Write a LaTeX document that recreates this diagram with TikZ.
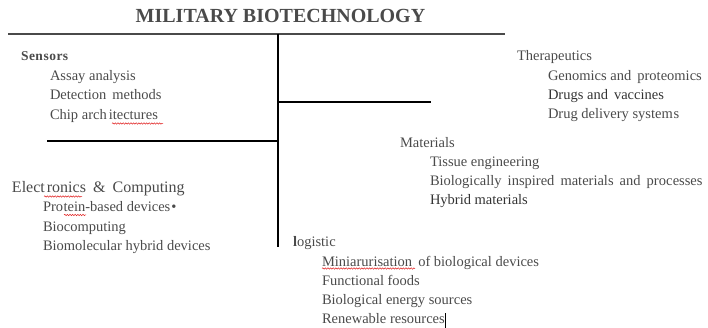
\documentclass[tikz,border=0pt]{standalone}
\usepackage{fontspec}
\setmainfont{Liberation Serif}
\usetikzlibrary{decorations.pathmorphing}
\definecolor{txt}{HTML}{4A4A4A}
\definecolor{txtdark}{HTML}{333333}
\definecolor{wavy}{HTML}{E02020}
\tikzset{
  lbl/.style={anchor=base west, inner sep=0pt, outer sep=0pt, text=txt, font=\fontsize{14.5}{16}\selectfont},
  head/.style={lbl, font=\fontsize{16}{18}\selectfont},
  rule/.style={line width=1.6pt, black},
  spell/.style={wavy, line width=0.5pt, decorate, decoration={snake, amplitude=0.7pt, segment length=2.6pt}}
}
\begin{document}
\begin{tikzpicture}[x=1pt, y=-1pt]
\useasboundingbox (0,0) rectangle (708,328);
% title
\node[anchor=base, inner sep=0pt, text=txt, font=\fontsize{20}{22}\selectfont\bfseries] (title) at (280.5,23) {MILITARY BIOTECHNOLOGY};
% frame lines
\coordinate (tl) at (8,34);
\coordinate (tr) at (505,34);
\coordinate (vt) at (278,34);
\coordinate (vb) at (278,247);
\coordinate (r1a) at (278,102);
\coordinate (r1b) at (431,102);
\coordinate (r2a) at (47,141);
\coordinate (r2b) at (278,141);
\draw[line width=2pt, txt] (tl) -- (tr);
\draw[rule] (vt) -- (vb);
\draw[rule] (r1a) -- (r1b);
\draw[rule] (r2a) -- (r2b);
% Sensors
\node[lbl, font=\fontsize{13.5}{16}\selectfont\bfseries] (sens) at (21,61) {S\kern0.5pt e\kern0.5pt n\kern0.5pt s\kern0.5pt o\kern0.5pt r\kern0.5pt s};
\node[lbl] (s1) at (50,81) {Assay analysis};
\node[lbl] (s2) at (50,100) {Detection\, methods};
\node[lbl] (s3) at (50,120) {Chip arch\kern2pt itectures};
% Therapeutics
\node[lbl] (ther) at (517,61) {Therapeutics};
\node[lbl] (t1) at (548,81) {Genomics and\, proteomics};
\node[lbl, text=txtdark] (t2) at (548,100) {Drugs and\, vaccines};
\node[lbl] (t3) at (548,119) {Drug delivery system\kern0.8pt s};
% Materials
\node[lbl] (mat) at (400,148) {Materials};
\node[lbl] (m1) at (430,167) {Tissue engineering};
\node[lbl] (m2) at (430,186) {Biologically\, inspired\, materials\, and\, proc\kern0.3pt esses};
\node[lbl, text=txtdark] (m3) at (430,205) {Hybrid materials};
% Electronics
\node[head] (elec) at (12,193) {Elect\kern2pt ronics\;\,\&\;\,Computing};
\node[lbl] (e1) at (43,212) {Pro\kern0.5pt tein-based devices\kern1pt•};
\node[lbl] (e2) at (43,232) {Biocomputing};
\node[lbl] (e3) at (43,251) {Biomolecular hybrid devices};
% Logistic
\node[lbl] (log) at (293,247) {{\bfseries l}ogistic};
\node[lbl] (l1) at (322,266) {Miniarurisation\, of biological devices};
\node[lbl] (l2) at (322,285) {Functional foods};
\node[lbl] (l3) at (322,304) {Biological energy sources};
\node[lbl] (l4) at (322,323) {Renewable resources};
\draw[line width=0.8pt, black] ([xshift=1pt]l4.east |- 0,313) -- ([xshift=1pt]l4.east |- 0,328);
% spelling marks
\draw[spell] (112,123.5) -- (163,123.5);
\draw[spell] (44,196.5) -- (82,196.5);
\draw[spell] (64,215) -- (86,215);
\draw[spell] (322,268.5) -- (415,268.5);
\end{tikzpicture}
\end{document}
